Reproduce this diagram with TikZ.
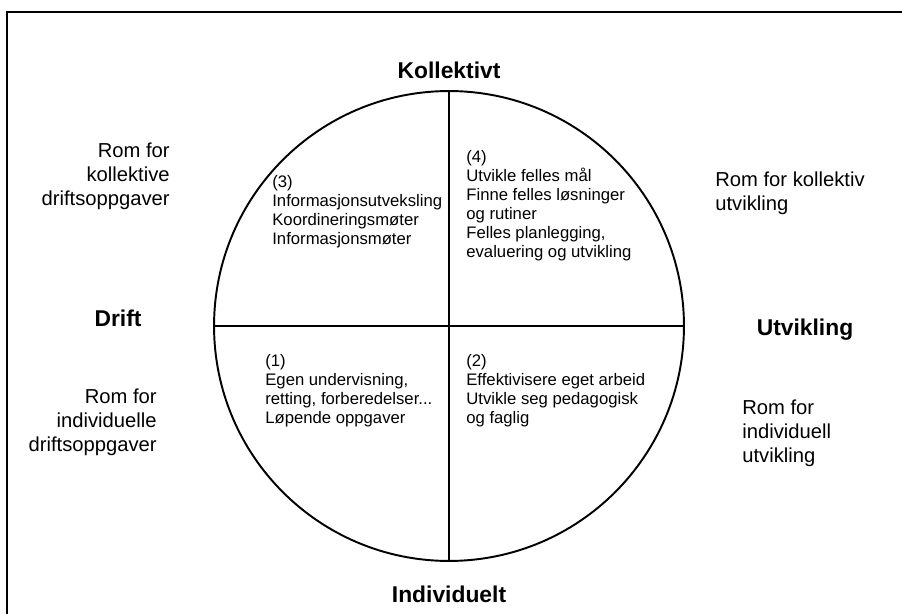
\documentclass[tikz,border=0pt]{standalone}
\usepackage{fontspec}
\setmainfont{Liberation Sans}
\usetikzlibrary{positioning}

\begin{document}
\begin{tikzpicture}[x=0.02cm, y=-0.02cm, every node/.style={inner sep=0pt},
  axis/.style={font=\fontsize{13}{15}\selectfont\bfseries},
  room/.style={font=\fontsize{11.5}{13.5}\selectfont},
  field/.style={font=\fontsize{9.5}{10.8}\selectfont, align=left, anchor=north west},
  ring/.style={circle, draw, line width=1.1pt, minimum size=9.4cm},
  divider/.style={line width=0.8pt}
]
    \useasboundingbox (0,0) rectangle (902,614);
    \draw[line width=1.4pt] (7,614) -- (7,12) -- (902,12);

    \node[ring] (ring) at (449,326) {};
    \draw[divider] (ring.north) -- (ring.south);
    \draw[divider] (ring.west) -- (ring.east);

    \node[axis, above=0.22cm of ring] (koll) {Kollektivt};
    \node[axis, below=0.48cm of ring] (indiv) {Individuelt};
    \node[axis] (drift) at (118,318) {Drift};
    \node[axis] (utv) at (805,330) {Utvikling};

    \node[room, align=right, anchor=north east] (romKD) at (170,143) {Rom for\\kollektive\\driftsoppgaver};
    \node[room, align=right, anchor=north east] (romID) at (157,389) {Rom for\\individuelle\\driftsoppgaver};
    \node[room, align=left, anchor=north west] (romKU) at (715,172) {Rom for kollektiv\\utvikling};
    \node[room, align=left, anchor=north west] (romIU) at (742,400) {Rom for\\individuell\\utvikling};

    \node[field] (q3) at (272,175) {(3)\\Informasjonsutveksling\\Koordineringsmøter\\Informasjonsmøter};
    \node[field] (q4) at (466,150) {(4)\\Utvikle felles mål\\Finne felles løsninger\\og rutiner\\Felles planlegging,\\evaluering og utvikling};
    \node[field] (q1) at (265,354) {(1)\\Egen undervisning,\\retting, forberedelser...\\Løpende oppgaver};
    \node[field] (q2) at (466,354) {(2)\\Effektivisere eget arbeid\\Utvikle seg pedagogisk\\og faglig};
\end{tikzpicture}
\end{document}
